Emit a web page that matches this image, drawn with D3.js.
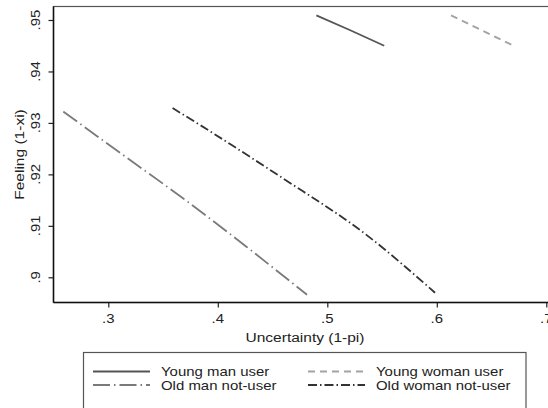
<!DOCTYPE html>
<html>
<head>
<script src="https://d3js.org/d3.v7.min.js"></script>
<style>
  body { margin: 0; background: #fff; }
  svg { display: block; font-family: 'Liberation Sans', Arial, sans-serif; }
</style>
</head>
<body>
<svg id="chart" width="548" height="408"></svg>
<script>
// values: x = uncertainty (1-pi), y = feeling (1-xi)
var youngManX = [0.490, 0.521, 0.552];
var youngManY = [0.9509, 0.9480, 0.9450];
var youngWomanX = [0.613, 0.642, 0.671];
var youngWomanY = [0.9509, 0.9479, 0.9449];
var oldManX = [0.259, 0.312, 0.3685, 0.4264, 0.4815];
var oldManY = [0.9322, 0.9240, 0.9153, 0.9059, 0.8966];
var oldWomanX = [0.3587, 0.4127, 0.4778, 0.5360, 0.5984];
var oldWomanY = [0.9329, 0.9257, 0.9167, 0.9082, 0.8970];

var xTicks = [0.3, 0.4, 0.5, 0.6, 0.7];
var yTicks = [0.9, 0.91, 0.92, 0.93, 0.94, 0.95];
var xTickLabels = [".3", ".4", ".5", ".6", ".7"];
var yTickLabels = [".9", ".91", ".92", ".93", ".94", ".95"];

var seriesNames = ["Young man user", "Young woman user", "Old man not-user", "Old woman not-user"];
var seriesX = [youngManX, youngWomanX, oldManX, oldWomanX];
var seriesY = [youngManY, youngWomanY, oldManY, oldWomanY];
var seriesColor = ["#555555", "#a3a3a3", "#7a7a7a", "#333333"];
var seriesDash = [null, "7,5", "17,4,1.5,4", "9,3,1.5,3"];

var svg = d3.select("#chart");
var plotL = 53.5, plotT = 6.5, plotR = 570, plotB = 302.5;
var stretch = 1.15; // the original text is a bit wider than Arial

var x = d3.scaleLinear().domain([0.3, 0.7]).range([108.3, 546.3]);
var y = d3.scaleLinear().domain([0.9, 0.95]).range([277.3, 20]);

function label(g, tx, ty, rot, anchor, size, str) {
    return g.append("text")
        .attr("transform", "translate(" + tx + "," + ty + ") rotate(" + rot + ") scale(" + stretch + ",1)")
        .attr("text-anchor", anchor)
        .style("font-size", size + "px")
        .attr("fill", "#222")
        .text(str);
}

// plot region outline
svg.append("rect")
    .attr("x", plotL).attr("y", plotT)
    .attr("width", plotR - plotL).attr("height", plotB - plotT)
    .attr("fill", "none")
    .attr("stroke", "#555")
    .attr("stroke-width", 1.2);

// y axis
var yAxis = d3.axisLeft(y)
    .tickValues(yTicks)
    .tickSize(5)
    .tickFormat("");
var gy = svg.append("g").attr("transform", "translate(" + plotL + ",0)").call(yAxis);
gy.select(".domain").remove();
gy.selectAll("line").attr("stroke", "#222").attr("stroke-width", 1.2);
yTicks.forEach(function (t, i) {
    label(svg, 40, y(t), -90, "middle", 13, yTickLabels[i]);
});
svg.append("line")
    .attr("x1", plotL).attr("x2", plotL)
    .attr("y1", plotT).attr("y2", plotB)
    .attr("stroke", "#111").attr("stroke-width", 1.5);

// x axis
var xAxis = d3.axisBottom(x)
    .tickValues(xTicks)
    .tickSize(5)
    .tickFormat("");
var gx = svg.append("g").attr("transform", "translate(0," + plotB + ")").call(xAxis);
gx.select(".domain").remove();
gx.selectAll("line").attr("stroke", "#222").attr("stroke-width", 1.2);
xTicks.forEach(function (t, i) {
    label(svg, x(t), 323, 0, "middle", 13, xTickLabels[i]);
});
svg.append("line")
    .attr("x1", plotL).attr("x2", plotR)
    .attr("y1", plotB).attr("y2", plotB)
    .attr("stroke", "#111").attr("stroke-width", 1.5);

// axis titles
label(svg, 305, 341.5, 0, "middle", 13.5, "Uncertainty (1-pi)");
label(svg, 24, (plotT + plotB) / 2, -90, "middle", 13.5, "Feeling (1-xi)");

// lines
var line = d3.line()
    .x(function (d) { return x(d[0]); })
    .y(function (d) { return y(d[1]); })
    .curve(d3.curveNatural);

seriesNames.forEach(function (name, i) {
    var pts = seriesX[i].map(function (v, j) { return [v, seriesY[i][j]]; });
    svg.append("path")
        .datum(pts)
        .attr("fill", "none")
        .attr("stroke", seriesColor[i])
        .attr("stroke-width", 1.8)
        .attr("stroke-dasharray", seriesDash[i])
        .attr("d", line);
});

// legend
var legend = svg.append("g");
legend.append("rect")
    .attr("x", 83.5).attr("y", 352.5)
    .attr("width", 442.5).attr("height", 70)
    .attr("fill", "#fff")
    .attr("stroke", "#555")
    .attr("stroke-width", 1.2);

var colX = [93, 308];
var rowY = [371.5, 385];
seriesNames.forEach(function (name, i) {
    var cx = colX[i % 2], cy = rowY[Math.floor(i / 2)];
    legend.append("line")
        .attr("x1", cx).attr("x2", cx + 57)
        .attr("y1", cy).attr("y2", cy)
        .attr("stroke", seriesColor[i])
        .attr("stroke-width", 1.8)
        .attr("stroke-dasharray", seriesDash[i]);
    label(legend, cx + 68, cy + 4.5, 0, "start", 13, name);
});
</script>
</body>
</html>
